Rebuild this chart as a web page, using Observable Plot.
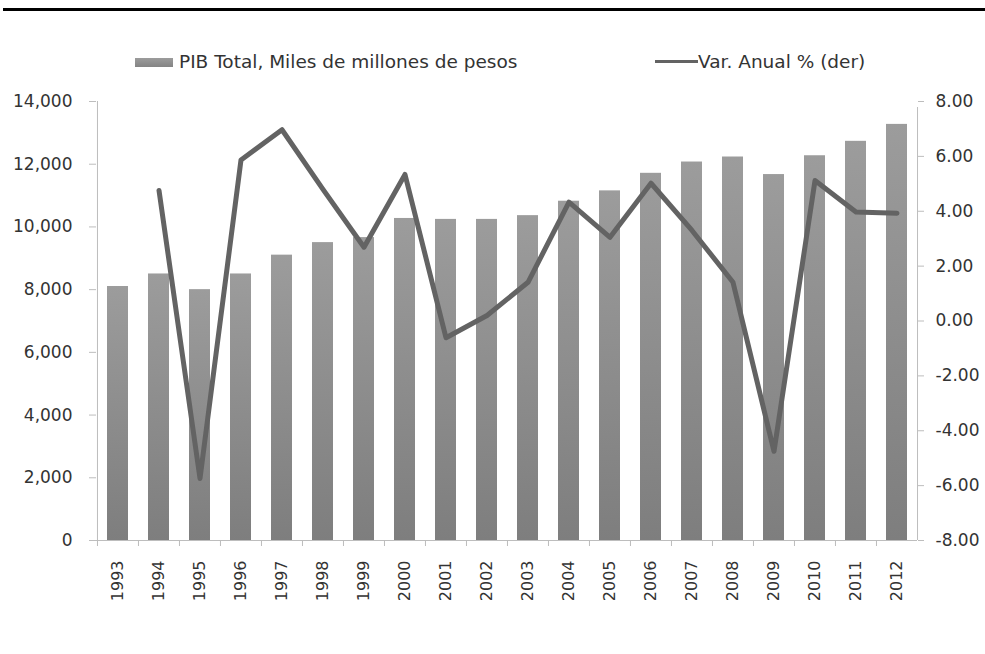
<!DOCTYPE html>
<html>
<head>
<meta charset="utf-8">
<script src="https://cdn.jsdelivr.net/npm/d3@7"></script>
<script src="https://cdn.jsdelivr.net/npm/@observablehq/plot@0.6"></script>
<style>
  html, body { margin: 0; padding: 0; background: #fff; }
  #wrap { position: relative; width: 985px; height: 654px; overflow: hidden; font-family: "DejaVu Sans", sans-serif; color: #333; }
  #rule { position: absolute; left: 3px; top: 8px; width: 982px; height: 3px; background: #000; }
  .leg { position: absolute; font-size: 18.5px; line-height: 22px; top: 51px; white-space: nowrap; color: #333; }
  #sw1 { position: absolute; left: 135px; top: 58px; width: 38px; height: 9px; background: linear-gradient(#9c9c9c, #848484); }
  #sw2 { position: absolute; left: 655px; top: 60px; width: 43px; height: 3px; background: #636363; }
  #chart { position: absolute; left: 0; top: 80px; }
</style>
</head>
<body>
<div id="wrap">
  <div id="rule"></div>
  <div id="sw1"></div>
  <div class="leg" style="left:179px">PIB Total, Miles de millones de pesos</div>
  <div id="sw2"></div>
  <div class="leg" style="left:698px">Var. Anual % (der)</div>
  <div id="chart"></div>
</div>
<script>
const years = ["1993","1994","1995","1996","1997","1998","1999","2000","2001","2002","2003","2004","2005","2006","2007","2008","2009","2010","2011","2012"];
const pibTotal = [8100, 8500, 8000, 8500, 9100, 9500, 9660, 10270, 10240, 10240, 10360, 10820, 11150, 11710, 12070, 12230, 11670, 12270, 12730, 13270];
const varAnual = [null, 4.76, -5.74, 5.87, 6.97, 4.8, 2.69, 5.34, -0.61, 0.2, 1.41, 4.33, 3.05, 5.02, 3.3, 1.41, -4.75, 5.12, 3.97, 3.93];
const leftTicks = [0, 2000, 4000, 6000, 8000, 10000, 12000, 14000];
const rightTicks = [-8, -6, -4, -2, 0, 2, 4, 6, 8];

const leftMax = 14000, rightMin = -8, rightMax = 8;
const toLeft = v => (v - rightMin) / (rightMax - rightMin) * leftMax;
const fromLeft = v => v / leftMax * (rightMax - rightMin) + rightMin;

const data = years.map((y, i) => ({year: y, pib: pibTotal[i], varA: varAnual[i]}));

const W = 985, mL = 96, mR = 68, mT = 21, mB = 80, H = 540;
const step = (W - mL - mR) / years.length;

const chart = Plot.plot({
  width: W,
  height: H,
  marginLeft: mL,
  marginRight: mR,
  marginTop: mT,
  marginBottom: mB,
  style: {fontFamily: "DejaVu Sans, sans-serif", fontSize: "17px", color: "#333", background: "transparent"},
  x: {type: "band", domain: years, paddingInner: 0.5, paddingOuter: 0.25},
  y: {domain: [0, leftMax]},
  marks: [
    Plot.barY(data, {x: "year", y: "pib", fill: "url(#barGrad)"}),
    Plot.ruleY([0], {stroke: "#bdbdbd", strokeWidth: 1}),
    Plot.ruleX([years[0]], {y1: 0, y2: leftMax, dx: -step / 2, stroke: "#bdbdbd"}),
    Plot.ruleX([years[years.length - 1]], {y1: 0, y2: leftMax, dx: step / 2, insetBottom: -6, stroke: "#bdbdbd"}),
    Plot.ruleX(years, {y1: 0, y2: 0, insetBottom: -6, dx: -step / 2, stroke: "#bdbdbd"}),
    Plot.line(data, {filter: d => d.varA != null, x: "year", y: d => toLeft(d.varA), stroke: "#636363", strokeWidth: 5, strokeLinejoin: "round", strokeLinecap: "round"}),
    Plot.axisY(leftTicks, {anchor: "left", tickSize: 7, tickPadding: 17, stroke: "#bdbdbd", tickFormat: d3.format(","), label: null}),
    Plot.axisY(rightTicks.map(toLeft), {anchor: "right", tickSize: 6, tickPadding: 12, stroke: "#bdbdbd", tickFormat: d => fromLeft(d).toFixed(2), label: null}),
    Plot.axisX({tickSize: 0, tickRotate: -90, tickPadding: 20, fontSize: 16, label: null})
  ]
});

d3.select(chart).insert("defs", ":first-child").html(
  '<linearGradient id="barGrad" x1="0" y1="0" x2="0" y2="1">' +
  '<stop offset="0" stop-color="#9c9c9c"/><stop offset="1" stop-color="#7e7e7e"/></linearGradient>'
);
d3.select(chart).selectAll("text").attr("fill", "#333");
document.getElementById("chart").appendChild(chart);
</script>
</body>
</html>
